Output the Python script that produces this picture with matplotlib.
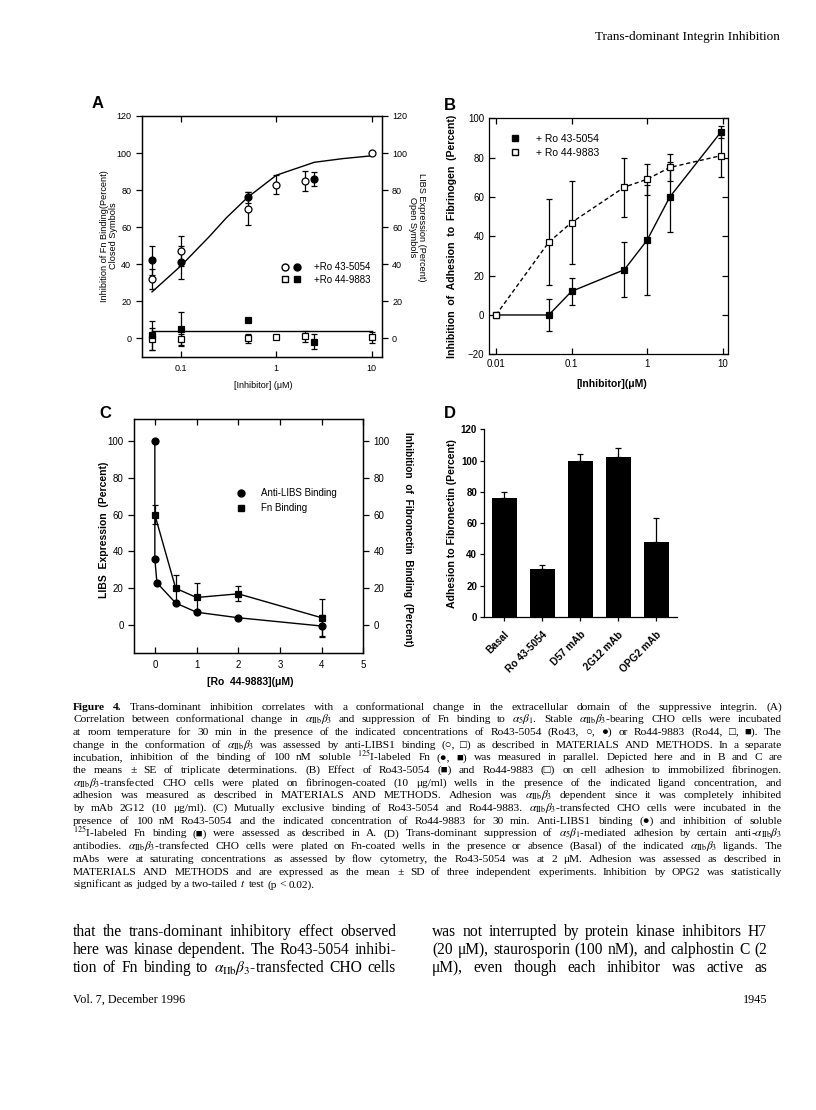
import matplotlib.pyplot as plt
from matplotlib.legend_handler import HandlerTuple
from matplotlib.lines import Line2D

W, H = 816, 1110
SANS = ['Liberation Sans', 'DejaVu Sans']
SERIF = ['Liberation Serif', 'DejaVu Serif', 'DejaVu Sans']

plt.rcParams['font.family'] = SANS
plt.rcParams['mathtext.fontset'] = 'stix'
plt.rcParams['axes.linewidth'] = 0.9
plt.rcParams['xtick.major.width'] = 0.9
plt.rcParams['ytick.major.width'] = 0.9

# ---- panel A: inhibitor titration (log x) ----
a_x_open = [0.05, 0.1, 0.5, 1, 2, 10]
a_libs43 = [32, 47, 70, 83, 85, 100]
a_libs43_err = [5.5, 8, 9, 5, 5.5, 0]
a_libs44 = [-0.5, -0.5, 0, 0.5, 1, 0.5]
a_libs44_err = [6, 3, 2.5, 1, 3, 3]
a_x_closed = [0.05, 0.1, 0.5, 2.5]
a_fn43 = [42, 41, 76, 86]
a_fn43_err = [8, 9, 3, 4]
a_fn44 = [1.5, 5, 10, -2]
a_fn44_err = [8, 9, 0, 4]
a_fit_x = [0.05, 0.1, 0.2, 0.3, 0.5, 1, 2.5, 5, 10]
a_fit43 = [25, 39, 55, 65, 76, 88, 95, 97, 98.5]
a_fit44_x = [0.05, 10]
a_fit44 = [4, 4]

# ---- panel B: adhesion to fibrinogen ----
b_x = [0.01, 0.05, 0.1, 0.5, 1, 2, 9.5]
b_ro43 = [0, 0, 12, 23, 38, 60, 93]
b_ro43_err = [0, 8, 7, 14, 28, 18, 3]
b_ro44 = [0, 37, 47, 65, 69, 75, 81]
b_ro44_err = [0, 22, 21, 15, 8, 7, 11]

# ---- panel C: Ro 44-9883 with 100 nM Ro43-5054 ----
c_libs_x = [0, 0, 0.05, 0.5, 1, 2, 4]
c_libs = [100, 36, 23, 12, 7, 4, -0.5]
c_libs_err = [0, 0, 0, 0, 0, 0, 6]
c_fn_x = [0, 0.5, 1, 2, 4]
c_fn = [60, 20, 15, 17, 4]
c_fn_err = [5, 7, 8, 4, 10]

# ---- panel D: adhesion to fibronectin ----
d_labels = ['Basal', 'Ro 43-5054', 'D57 mAb', '2G12 mAb', 'OPG2 mAb']
d_vals = [76, 31, 100, 102, 48]
d_err = [4, 2, 4, 6, 15]


def box(left, top, right, bottom):
    return [left / W, 1 - bottom / H, (right - left) / W, (bottom - top) / H]


def P(x, y):
    return x / W, 1 - y / H


fig = plt.figure(figsize=(W / 100, H / 100), dpi=100)
fig.patch.set_facecolor('white')

eb = dict(ecolor='black', elinewidth=0.9, capsize=2.5, capthick=0.9,
          ms=5, mec='black', mew=0.9)

# ================= A =================
axA = fig.add_axes(box(141.7, 116, 381.7, 356.7))
axA.set_xscale('log')
axA.plot(a_fit_x, a_fit43, color='black', lw=1)
axA.plot(a_fit44_x, a_fit44, color='black', lw=1)
axA.errorbar(a_x_open, a_libs43, yerr=a_libs43_err, fmt='o', mfc='white', **eb)
axA.errorbar(a_x_closed, a_fn43, yerr=a_fn43_err, fmt='o', mfc='black', **eb)
axA.errorbar(a_x_open, a_libs44, yerr=a_libs44_err, fmt='s', mfc='white', **eb)
axA.errorbar(a_x_closed, a_fn44, yerr=a_fn44_err, fmt='s', mfc='black', **eb)
axA.set_xlim(0.039, 12.7)
axA.set_ylim(-10, 120)
axA.set_xticks([0.1, 1, 10])
axA.set_xticklabels(['0.1', '1', '10'])
axA.xaxis.set_minor_locator(plt.NullLocator())
axA.set_yticks(range(0, 121, 20))
axA.tick_params(axis='x', direction='in', top=True, length=4, labelsize=6.5, pad=5)
axA.tick_params(axis='y', direction='out', length=4, labelsize=6.5)
axR = axA.twinx()
axR.set_ylim(-10, 120)
axR.set_yticks(range(0, 121, 20))
axR.tick_params(axis='y', direction='out', length=4, labelsize=6.5)

h_oc = Line2D([], [], marker='o', ls='none', mfc='white', mec='black', ms=5)
h_fc = Line2D([], [], marker='o', ls='none', mfc='black', mec='black', ms=5)
h_os = Line2D([], [], marker='s', ls='none', mfc='white', mec='black', ms=5)
h_fs = Line2D([], [], marker='s', ls='none', mfc='black', mec='black', ms=5)
axA.legend([(h_oc, h_fc), (h_os, h_fs)], ['+Ro 43-5054', '+Ro 44-9883'],
           handler_map={tuple: HandlerTuple(ndivide=None, pad=0.6)},
           loc='center left', bbox_to_anchor=(0.562, 0.345), frameon=False,
           fontsize=7, handlelength=2.0, handletextpad=1.3, labelspacing=0.25,
           borderpad=0)

fig.text(*P(109, 236), 'Inhibition of Fn Binding(Percent)\nClosed Symbols',
         rotation=90, ha='center', va='center', fontsize=6.6, linespacing=1.0)
fig.text(*P(417, 227), 'LIBS Expression (Percent)\nOpen Symbols',
         rotation=-90, ha='center', va='center', fontsize=6.6, linespacing=1.0)
fig.text(*P(263, 385), '[Inhibitor] (\u03bcM)', ha='center', va='center', fontsize=6.5)
fig.text(*P(98, 104), 'A', ha='center', va='center', fontsize=12, fontweight='bold')

# ================= B =================
axB = fig.add_axes(box(489, 118.3, 728.3, 354.3))
axB.set_xscale('log')
axB.errorbar(b_x, b_ro43, yerr=b_ro43_err, fmt='s-', color='black', mfc='black',
             lw=1, zorder=2, **eb)
axB.errorbar(b_x, b_ro44, yerr=b_ro44_err, fmt='s', ls=(0, (3, 2)), color='black',
             mfc='white', lw=1, zorder=3, **eb)
axB.set_xlim(0.00808, 11.9)
axB.set_ylim(-20, 100)
axB.set_xticks([0.01, 0.1, 1, 10])
axB.set_xticklabels(['0.01', '0.1', '1', '10'])
axB.xaxis.set_minor_locator(plt.NullLocator())
axB.set_yticks(range(-20, 101, 20))
axB.tick_params(direction='in', top=True, right=True, length=4, labelsize=7)
axB.legend([h_fs, h_os], ['+ Ro 43-5054', '+ Ro 44-9883'], loc='upper left',
           bbox_to_anchor=(0.06, 0.955), frameon=False, fontsize=7.5,
           handlelength=1.2, handletextpad=1.4, labelspacing=0.35, borderpad=0)
fig.text(*P(451.7, 236.5), 'Inhibition  of  Adhesion  to  Fibrinogen  (Percent)',
         rotation=90, ha='center', va='center', fontsize=7.6, fontweight='bold')
fig.text(*P(611.7, 384), '[Inhibitor](\u03bcM)', ha='center', va='center',
         fontsize=7.5, fontweight='bold')
fig.text(*P(450, 105), 'B', ha='center', va='center', fontsize=12, fontweight='bold')

# ================= C =================
axC = fig.add_axes(box(134, 419, 363.3, 652.7))
axC.errorbar(c_libs_x, c_libs, yerr=c_libs_err, fmt='o-', color='black',
             mfc='black', lw=1, **eb)
axC.errorbar(c_fn_x, c_fn, yerr=c_fn_err, fmt='s-', color='black',
             mfc='black', lw=1, **eb)
axC.set_xlim(-0.5, 5)
axC.set_ylim(-15, 112)
axC.set_xticks(range(0, 6))
axC.set_yticks(range(0, 101, 20))
axC.tick_params(axis='x', direction='in', top=True, length=4, labelsize=7, pad=5)
axC.tick_params(axis='y', direction='out', length=4, labelsize=7)
axCR = axC.twinx()
axCR.set_ylim(-15, 112)
axCR.set_yticks(range(0, 101, 20))
axCR.tick_params(axis='y', direction='out', length=4, labelsize=7)
h_c = Line2D([], [], marker='o', ls='none', mfc='black', mec='black', ms=5)
axC.legend([h_c, h_fs], ['Anti-LIBS Binding', 'Fn Binding'], loc='upper left',
           bbox_to_anchor=(0.42, 0.725), frameon=False, fontsize=7,
           handlelength=1.2, handletextpad=1.5, labelspacing=0.5, borderpad=0)
fig.text(*P(104.3, 530), 'LIBS  Expression  (Percent)', rotation=90,
         ha='center', va='center', fontsize=7.5, fontweight='bold')
fig.text(*P(408, 539), 'Inhibition  of  Fibronectin  Binding  (Percent)', rotation=-90,
         ha='center', va='center', fontsize=7.3, fontweight='bold')
fig.text(*P(250, 681.7), '[Ro  44-9883](\u03bcM)', ha='center', va='center',
         fontsize=7.5, fontweight='bold')
fig.text(*P(105, 413), 'C', ha='center', va='center', fontsize=12, fontweight='bold')

# ================= D =================
axD = fig.add_axes(box(484, 429.3, 676.7, 617))
xs = list(range(len(d_labels)))
axD.bar(xs, d_vals, width=0.66, color='black')
axD.errorbar(xs, d_vals, yerr=[[0] * len(d_err), d_err], fmt='none', ecolor='black',
             elinewidth=0.9, capsize=2.2, capthick=0.9)
axD.set_xlim(-0.53, 4.54)
axD.set_ylim(0, 120)
axD.spines['top'].set_visible(False)
axD.spines['right'].set_visible(False)
axD.set_yticks(range(0, 121, 20))
axD.set_xticks(xs)
axD.set_xticklabels(d_labels, rotation=45, ha='right', rotation_mode='anchor',
                    fontweight='bold')
for t in axD.get_yticklabels():
    t.set_fontweight('bold')
axD.tick_params(axis='y', direction='out', length=3, labelsize=7, pad=2)
axD.tick_params(axis='x', direction='out', length=3, labelsize=7.3, pad=6)
fig.text(*P(451.7, 524), 'Adhesion to Fibronectin (Percent)', rotation=90,
         ha='center', va='center', fontsize=7.6, fontweight='bold')
fig.text(*P(450, 413), 'D', ha='center', va='center', fontsize=12, fontweight='bold')

# ================= page text =================
renderer = fig.canvas.get_renderer()


def put_line(text, x0, x1, y, size, justify=True, nbold=0):
    words = text.split(' ')
    objs = []
    for i, w in enumerate(words):
        objs.append(fig.text(0, 0, w, fontsize=size, family=SERIF, ha='left',
                             va='baseline', fontweight='bold' if i < nbold else 'normal'))
    widths = [o.get_window_extent(renderer).width for o in objs]
    space = size * 1.389 * 0.25
    if justify and len(words) > 1:
        gap = max((x1 - x0 - sum(widths)) / (len(words) - 1), 2.0)
    else:
        gap = space
    x = x0
    for o, w in zip(objs, widths):
        o.set_position(P(x, y))
        x += w + gap


ab = r'$\alpha_{\mathrm{IIb}}\beta_3$'
caption = [
    'Figure 4. Trans-dominant inhibition correlates with a conformational change in the extracellular domain of the suppressive integrin. (A)',
    'Correlation between conformational change in ' + ab + r' and suppression of Fn binding to $\alpha_5\beta_1$. Stable ' + ab + '-bearing CHO cells were incubated',
    'at room temperature for 30 min in the presence of the indicated concentrations of Ro43-5054 (Ro43, \u25cb, \u25cf) or Ro44-9883 (Ro44, \u25a1, \u25a0). The',
    'change in the conformation of ' + ab + ' was assessed by anti-LIBS1 binding (\u25cb, \u25a1) as described in MATERIALS AND METHODS. In a separate',
    r'incubation, inhibition of the binding of 100 nM soluble $^{125}$I-labeled Fn (' + '\u25cf, \u25a0) was measured in parallel. Depicted here and in B and C are',
    'the means \u00b1 SE of triplicate determinations. (B) Effect of Ro43-5054 (\u25a0) and Ro44-9883 (\u25a1) on cell adhesion to immobilized fibrinogen.',
    ab + '-transfected CHO cells were plated on fibrinogen-coated (10 \u03bcg/ml) wells in the presence of the indicated ligand concentration, and',
    'adhesion was measured as described in MATERIALS AND METHODS. Adhesion was ' + ab + ' dependent since it was completely inhibited',
    'by mAb 2G12 (10 \u03bcg/ml). (C) Mutually exclusive binding of Ro43-5054 and Ro44-9883. ' + ab + '-transfected CHO cells were incubated in the',
    'presence of 100 nM Ro43-5054 and the indicated concentration of Ro44-9883 for 30 min. Anti-LIBS1 binding (\u25cf) and inhibition of soluble',
    r'$^{125}$I-labeled Fn binding (' + '\u25a0) were assessed as described in A. (D) Trans-dominant suppression of ' + r'$\alpha_5\beta_1$-mediated adhesion by certain anti-' + ab,
    'antibodies. ' + ab + '-transfected CHO cells were plated on Fn-coated wells in the presence or absence (Basal) of the indicated ' + ab + ' ligands. The',
    'mAbs were at saturating concentrations as assessed by flow cytometry, the Ro43-5054 was at 2 \u03bcM. Adhesion was assessed as described in',
    'MATERIALS AND METHODS and are expressed as the mean \u00b1 SD of three independent experiments. Inhibition by OPG2 was statistically',
    r'significant as judged by a two-tailed $t$ test (p < 0.02).',
]
for i, line in enumerate(caption):
    put_line(line, 73, 782, 709.5 + 12.7 * i, 8.2, justify=i < len(caption) - 1,
             nbold=2 if i == 0 else 0)

left_col = [
    'that the trans-dominant inhibitory effect observed',
    'here was kinase dependent. The Ro43-5054 inhibi-',
    'tion of Fn binding to ' + ab + '-transfected CHO cells',
]
right_col = [
    'was not interrupted by protein kinase inhibitors H7',
    '(20 \u03bcM), staurosporin (100 nM), and calphostin C (2',
    '\u03bcM), even though each inhibitor was active as',
]
for i, line in enumerate(left_col):
    put_line(line, 73, 396, 936 + 18 * i, 11.2)
for i, line in enumerate(right_col):
    put_line(line, 432, 767, 936 + 18 * i, 11.2)

fig.text(*P(780, 37), 'Trans-dominant Integrin Inhibition', ha='right', va='center',
         family=SERIF, fontsize=9.5)
fig.text(*P(73, 1000), 'Vol. 7, December 1996', ha='left', va='center',
         family=SERIF, fontsize=8.7)
fig.text(*P(767, 1000), '1945', ha='right', va='center', family=SERIF, fontsize=8.7)

fig.savefig('out.png', dpi=100, facecolor='white')
